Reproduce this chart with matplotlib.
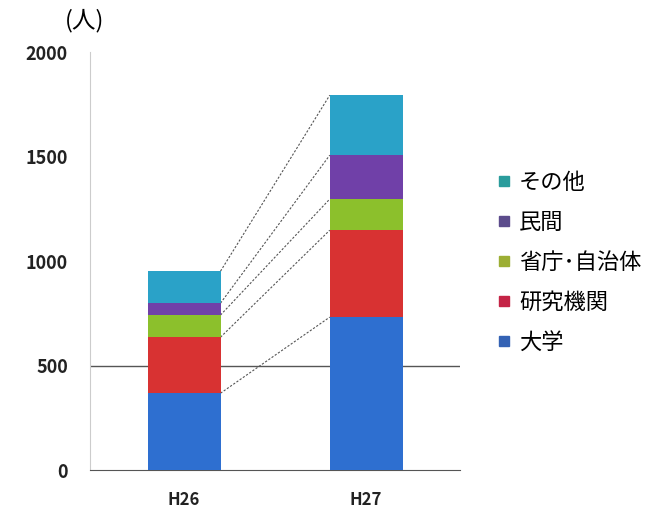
import numpy as np
import matplotlib
matplotlib.use('Agg')
import matplotlib.pyplot as plt
from matplotlib.lines import Line2D

plt.rcParams['font.family'] = ['Noto Sans CJK JP', 'DejaVu Sans']

years = ['H26', 'H27']
series = ['大学', '研究機関', '省庁･自治体', '民間', 'その他']
daigaku = [368, 732]
kenkyu = [268, 416]
shocho = [106, 149]
minkan = [57, 210]
sonota = [153, 287]
values = [daigaku, kenkyu, shocho, minkan, sonota]

bar_colors = ['#2e6fd0', '#d83232', '#8cc02c', '#7040a8', '#2aa2c8']
legend_colors = ['#3462b4', '#c42446', '#9cae34', '#5c4c8c', '#2a9c9c']

fig = plt.figure(figsize=(6.63, 5.11), dpi=100)
ax = fig.add_axes([0.136, 0.080, 0.558, 0.818])

x = np.arange(len(years))
w = 0.40
bottom = np.zeros(len(years))
tops = []
for vals, c in zip(values, bar_colors):
    ax.bar(x, vals, w, bottom=bottom, color=c, zorder=3)
    bottom = bottom + np.array(vals)
    tops.append(bottom.copy())

# series lines between the bars
for t in tops:
    ax.plot([x[0] + w / 2, x[1] - w / 2], [t[0], t[1]], color='#555555',
            lw=0.8, ls=(0, (2, 1.5)), zorder=2)

ax.axhline(500, color='#555555', lw=1.0, zorder=1)
ax.set_xlim(-0.516, 1.516)
ax.set_ylim(0, 2000)
ax.set_yticks([0, 500, 1000, 1500, 2000])
ax.set_xticks(x)
ax.set_xticklabels(years)
ax.tick_params(axis='y', length=0, labelsize=13, pad=16)
ax.tick_params(axis='x', length=0, labelsize=12, pad=15)
for lab in ax.get_xticklabels() + ax.get_yticklabels():
    lab.set_fontweight('bold')
    lab.set_color('#222222')
for s in ['top', 'right']:
    ax.spines[s].set_visible(False)
ax.spines['left'].set_color('#cccccc')
ax.spines['bottom'].set_color('#555555')

fig.text(0.098, 0.96, '(人)', fontsize=17, ha='left', va='center')

handles = [Line2D([], [], marker='s', ls='', color=c, markersize=7)
           for c in legend_colors]
leg = fig.legend(handles[::-1], series[::-1], loc='upper left',
                 bbox_to_anchor=(0.736, 0.683), frameon=False, fontsize=16,
                 handlelength=0.6, handletextpad=0.4, labelspacing=0.76,
                 borderaxespad=0)

fig.savefig('out.png', dpi=100)
